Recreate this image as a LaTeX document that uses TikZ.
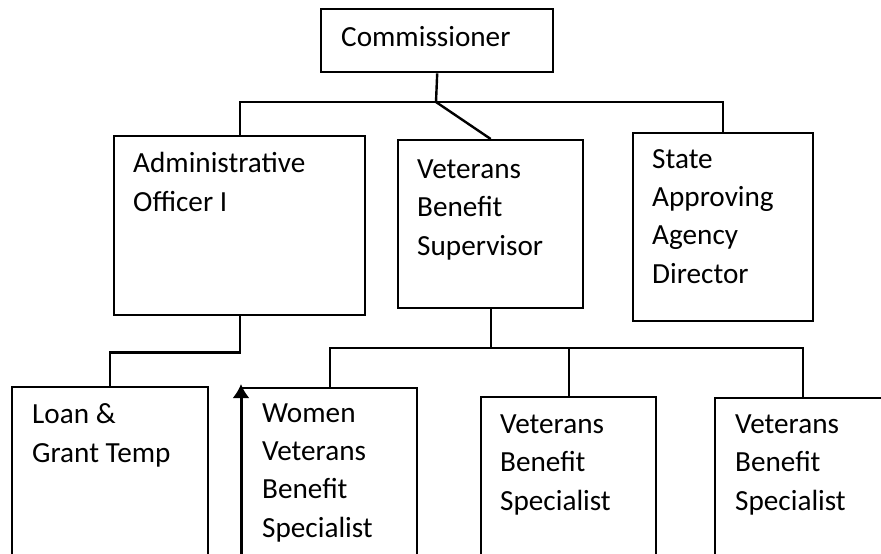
\documentclass[tikz,border=0pt]{standalone}
\usepackage{fontspec}
\setmainfont{Carlito}
\usetikzlibrary{arrows.meta}
\tikzset{
  box/.style={draw, line width=2.4pt, inner sep=0pt, anchor=north west},
  lbl/.style={anchor=base west, inner sep=0pt, align=left, font=\fontsize{29.2}{38.3}\selectfont},
  conn/.style={line width=2.4pt}
}
\begin{document}
\begin{tikzpicture}[x=1pt,y=-1pt]
\useasboundingbox (0,0) rectangle (881,554);
\fill[white] (0,0) rectangle (881,554);
\clip (0,0) rectangle (881,554);
% boxes
\node[box, minimum width=232pt, minimum height=63pt] (comm) at (320,8) {};
\node[box, minimum width=251pt, minimum height=179pt] (admin) at (113,135) {};
\node[box, minimum width=185pt, minimum height=168pt] (sup) at (397,139) {};
\node[box, minimum width=180pt, minimum height=188pt] (state) at (632,132) {};
\node[box, minimum width=196pt, minimum height=180pt] (loan) at (11,386) {};
\node[box, minimum width=175pt, minimum height=180pt] (women) at (241,387) {};
\node[box, minimum width=175pt, minimum height=180pt] (vbs1) at (480,396) {};
\node[box, minimum width=176pt, minimum height=180pt] (vbs2) at (714,397) {};
% labels (anchored at the baseline of the last line)
\node[lbl] (commT) at (341,46) {Commissioner};
\node[lbl] (adminT) at (133,211) {Administrative\\Officer I};
\node[lbl] (supT) at (417,255) {Veterans\\Benefit\\Supervisor};
\node[lbl] (stateT) at (652,283) {State\\Approving\\Agency\\Director};
\node[lbl] (loanT) at (32,462) {Loan \&\\Grant Temp};
\node[lbl] (womenT) at (262,537) {Women\\Veterans\\Benefit\\Specialist};
\node[lbl] (vbs1T) at (500,510) {Veterans\\Benefit\\Specialist};
\node[lbl] (vbs2T) at (735,510) {Veterans\\Benefit\\Specialist};
% connectors
\coordinate (hub) at (436,102);
\coordinate (sbus) at (490,348);
\draw[conn] (comm.south) -- (hub);
\draw[conn] (admin.north) -- (admin.north |- hub) -- (state.north |- hub) -- (state.north);
\draw[conn] (hub) -- (sup.north);
\draw[conn] (admin.south) -- ++(0,36) -| (loan.north);
\draw[conn] (sup.south) -- (sup.south |- sbus);
\draw[conn] (women.north) -- (women.north |- sbus) -- (vbs2.north |- sbus) -- (vbs2.north);
\draw[conn] (vbs1.north |- sbus) -- (vbs1.north);
\draw[conn, -{Latex[length=14pt,width=17pt]}, shorten >=-3pt] (women.south west) -- (women.north west);
\end{tikzpicture}
\end{document}
